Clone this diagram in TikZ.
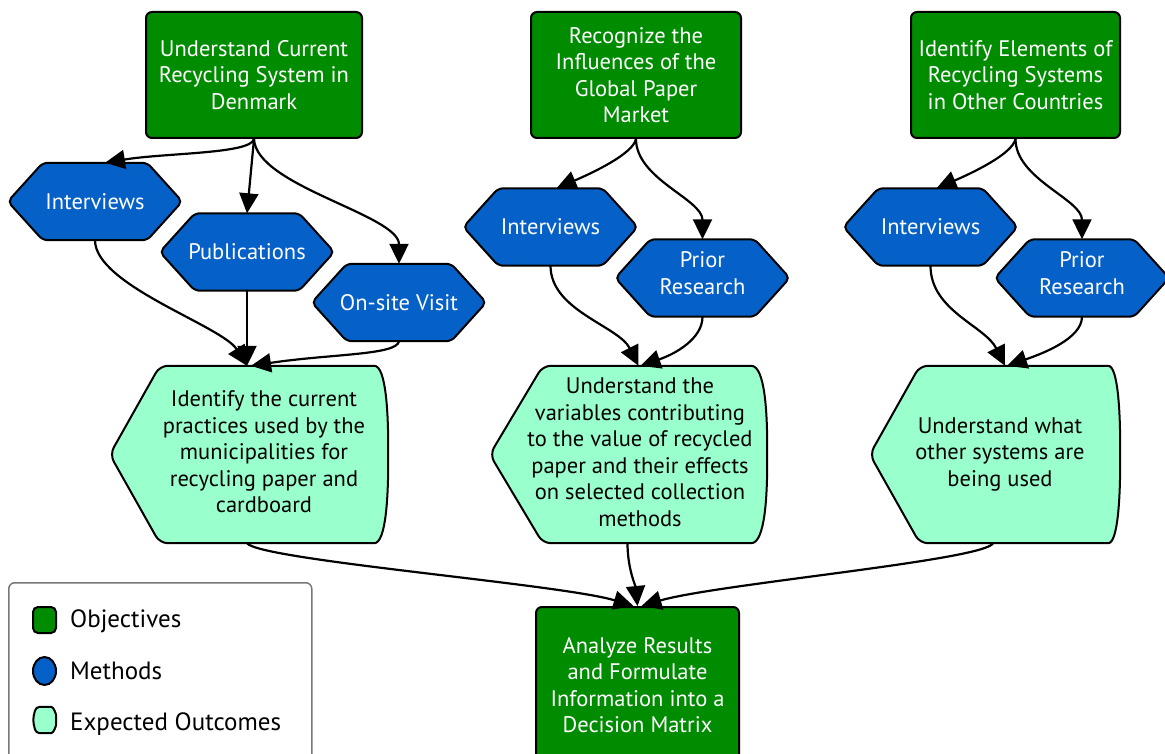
\documentclass[tikz,border=0pt]{standalone}
\usepackage{fontspec}
\setmainfont{PT Sans}
\usetikzlibrary{arrows.meta,calc,backgrounds,shapes.geometric}
\definecolor{objg}{RGB}{0,140,0}
\definecolor{methb}{RGB}{5,96,200}
\definecolor{outg}{RGB}{153,255,204}
\definecolor{leggray}{RGB}{120,120,120}
\newcommand\hexpath[2]{\path[methshape] ([yshift=-#2]#1.west) -- ([xshift=35pt,yshift=-#2]#1.north west) -- ([xshift=-35pt,yshift=-#2]#1.north east) -- ([yshift=-#2]#1.east) -- ([xshift=-35pt,yshift=-#2]#1.south east) -- ([xshift=35pt,yshift=-#2]#1.south west) -- cycle;}
\newcommand\outpath[3]{\path[outshape] ([xshift=-#3]#1.north east) .. controls ([xshift=-2pt]#1.north east) and ([yshift=40pt]#1.east) .. (#1.east) .. controls ([yshift=-40pt]#1.east) and ([xshift=-2pt]#1.south east) .. ([xshift=-#3]#1.south east) -- ([xshift=#2]#1.south west) -- (#1.west) -- ([xshift=#2]#1.north west) -- cycle;}
\tikzset{
  txt/.style={font=\fontsize{22.5}{26.5}\selectfont, align=center},
  obj/.style={txt, draw=black, line width=2pt, fill=objg, text=white, rounded corners=6pt, minimum height=126pt, inner sep=0pt},
  meth/.style={txt, text=white, minimum width=174pt, minimum height=77pt, inner sep=0pt},
  methshape/.style={draw=black, line width=2pt, fill=methb, rounded corners=5pt},
  outc/.style={txt, minimum height=177pt, inner sep=0pt},
  outshape/.style={draw=black, line width=2pt, fill=outg, rounded corners=8pt},
  conn/.style={line width=2.2pt, -{Triangle[length=20pt,width=19pt]}},
  legtxt/.style={font=\fontsize{25}{30}\selectfont, anchor=west, inner sep=0pt},
  legkey/.style={draw=black, line width=2pt, minimum width=23pt, minimum height=26pt, inner sep=0pt}
}
\begin{document}
\begin{tikzpicture}[x=1pt,y=-1pt]
\useasboundingbox (0,0) rectangle (1165,754);
% objectives
\node[obj, minimum width=216pt] (ob1) at (254,75) {Understand Current\\Recycling System in\\Denmark};
\node[obj, minimum width=210pt] (ob2) at (636,75) {Recognize the\\Influences of the\\Global Paper\\Market};
\node[obj, minimum width=209pt] (ob3) at (1015.5,75) {Identify Elements of\\Recycling Systems\\in Other Countries};
\node[obj, minimum width=203pt, minimum height=156pt, anchor=north] (fin) at (637.5,606) {Analyze Results\\and Formulate\\Information into a\\Decision Matrix};
% methods
\node[meth] (m11) at (95,201.5) {Interviews};
\node[meth] (m12) at (247,252) {Publications};
\node[meth] (m13) at (399,302.5) {On-site Visit};
\node[meth] (m21) at (550.5,227) {Interviews};
\node[meth] (m22) at (702.5,273) {Prior\\Research};
\node[meth] (m31) at (930.5,227) {Interviews};
\node[meth] (m32) at (1082,273) {Prior\\Research};
% outcomes
\node[outc, minimum width=278pt] (oc1) at (249,454.5) {\begin{tabular}{@{\hspace{30pt}}c@{}}Identify the current\\practices used by the\\municipalities for\\recycling paper and\\cardboard\end{tabular}};
\node[outc, minimum width=277pt] (oc2) at (628.5,454.5) {\begin{tabular}{@{\hspace{23pt}}c@{}}Understand the\\variables contributing\\to the value of recycled\\paper and their effects\\on selected collection\\methods\end{tabular}};
\node[outc, minimum width=250pt] (oc3) at (995,454.5) {\begin{tabular}{@{\hspace{10pt}}c@{}}Understand what\\other systems are\\being used\end{tabular}};
% legend
\node[draw=leggray, line width=1.5pt, rounded corners=6pt, minimum width=303pt, minimum height=195pt, anchor=north west, inner sep=0pt] (legend) at (8,582) {};
\node[legkey, fill=objg, rounded corners=5pt] (lk1) at (44.5,620) {};
\node[legkey, fill=methb, ellipse, minimum height=28pt] (lk2) at (44.5,671) {};
\node[minimum width=23pt, minimum height=26pt, inner sep=0pt] (lk3) at (44.5,720) {};
\node[legtxt] (lt1) at (70,621) {Objectives};
\node[legtxt] (lt2) at (70,671) {Methods};
\node[legtxt] (lt3) at (70,724) {Expected Outcomes};
\begin{pgfonlayer}{background}
\hexpath{m11}{0pt}\hexpath{m12}{0pt}\hexpath{m13}{0pt}\hexpath{m21}{0pt}\hexpath{m22}{5pt}\hexpath{m31}{0pt}\hexpath{m32}{5pt}
\outpath{oc1}{50pt}{22pt}
\outpath{oc2}{53pt}{24pt}
\outpath{oc3}{50pt}{20pt}
\path[draw=black, line width=2pt, fill=outg, rounded corners=4pt] ([xshift=3pt]lk3.north west) -- ([xshift=-9pt]lk3.north east) to[out=0,in=90] (lk3.east) to[out=-90,in=0] ([xshift=-9pt]lk3.south east) -- ([xshift=3pt]lk3.south west) -- (lk3.west) -- cycle;
\end{pgfonlayer}
% connectors
\draw[conn] (ob1.south) .. controls +(-3,15) and +(60,-10) .. ([xshift=10pt]m11.north);
\draw[conn] (ob1.south) -- (m12.north);
\draw[conn] (ob1.south) .. controls +(2,47) and +(0,-49) .. (m13.north);
\draw[conn] (m11.south) .. controls +(0,45) and +(-25,-40) .. ([xshift=-2pt]oc1.north);
\draw[conn] (m12.south) -- ([xshift=-2pt]oc1.north);
\draw[conn] (m13.south) .. controls +(-2,14) and +(80,-12) .. ([xshift=2pt]oc1.north);
\draw[conn] (ob2.south) .. controls +(-3,15) and +(35,-15) .. ([xshift=6pt]m21.north);
\draw[conn] (ob2.south) .. controls +(0,40) and +(0,-40) .. ([yshift=-5pt]m22.north);
\draw[conn] (m21.south) .. controls +(0,45) and +(-20,-40) .. ([xshift=10pt]oc2.north);
\draw[conn] ([yshift=-5pt]m22.south) .. controls +(0,22) and +(35,-12) .. ([xshift=12pt]oc2.north);
\draw[conn] (ob3.south) .. controls +(-3,15) and +(35,-15) .. ([xshift=6pt]m31.north);
\draw[conn] (ob3.south) .. controls +(0,40) and +(0,-40) .. ([yshift=-5pt]m32.north);
\draw[conn] (m31.south) .. controls +(0,45) and +(-20,-40) .. ([xshift=10pt]oc3.north);
\draw[conn] ([yshift=-5pt]m32.south) .. controls +(0,22) and +(35,-12) .. ([xshift=12pt]oc3.north);
\draw[conn] ([xshift=-2pt]oc1.south) .. controls +(13,17) and +(-73,-22) .. ([xshift=-4pt]fin.north);
\draw[conn] ([xshift=-1pt]oc2.south) .. controls +(0,25) and +(-2,-20) .. (fin.north);
\draw[conn] ([xshift=-2pt]oc3.south) .. controls +(-8,17) and +(75,-22) .. ([xshift=4pt]fin.north);
\end{tikzpicture}
\end{document}
